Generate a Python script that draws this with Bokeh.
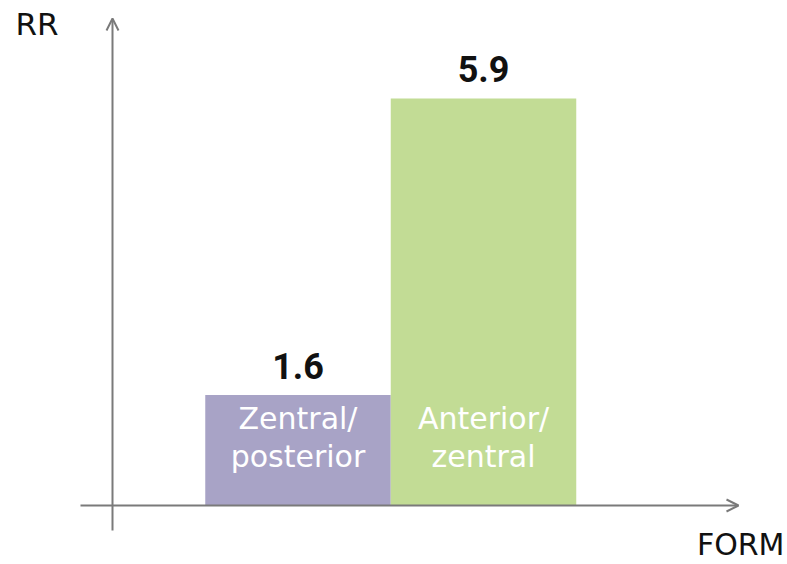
from bokeh.plotting import figure
from bokeh.models import Range1d, Arrow, OpenHead, Label, ColumnDataSource
from bokeh.core.properties import value
from bokeh.embed import file_html
from bokeh.resources import INLINE

# data
categories = ["Zentral/ posterior", "Anterior/ zentral"]
line1 = ["Zentral/", "Anterior/"]
line2 = ["posterior", "zentral"]
rr_values = [1.6, 5.9]
value_labels = ["1.6", "5.9"]
colors = ["#a8a3c6", "#c2dc95"]

W, H = 787, 564
# layout of the plot area in pixels
BAR_W_PX = 185.5          # one category unit
FIRST_CENTER_PX = 297.5   # centre of first bar
BASE_PX = 505.0           # pixel row of y = 0
UNIT_PX = 69.0            # pixels per RR unit
TXT_SHIFT = -12           # baseline correction for svg text

x0 = -FIRST_CENTER_PX / BAR_W_PX
x1 = (W - FIRST_CENTER_PX) / BAR_W_PX
y0 = -(H - BASE_PX) / UNIT_PX
y1 = BASE_PX / UNIT_PX


def px_x(px):
    return x0 + px / BAR_W_PX


def px_y(py):
    return (BASE_PX - py) / UNIT_PX


p = figure(width=W, height=H, output_backend="svg", toolbar_location=None,
           x_range=Range1d(x0, x1), y_range=Range1d(y0, y1),
           min_border=0, outline_line_color=None)
p.axis.visible = False
p.grid.visible = False
p.background_fill_color = "white"
p.border_fill_color = "white"

xs = list(range(len(categories)))
src = ColumnDataSource(dict(x=xs, top=rr_values, color=colors,
                            lab=value_labels, l1=line1, l2=line2,
                            zero=[0] * len(xs)))

p.vbar(x="x", top="top", bottom=0, width=1.0, fill_color="color",
       line_color=None, source=src)

# value labels above the bars
p.text(x="x", y="top", text="lab", source=src, text_align="center",
       text_baseline="alphabetic", y_offset=-17 + TXT_SHIFT,
       text_font=value("Roboto"), text_font_style="bold",
       text_font_size="36px", text_color="#111111")

# category names inside the bars
p.text(x="x", y="zero", text="l1", source=src, text_align="center",
       text_baseline="alphabetic", y_offset=-75 + TXT_SHIFT,
       text_font=value("DejaVu Sans"), text_font_size="30px",
       text_color="white")
p.text(x="x", y="zero", text="l2", source=src, text_align="center",
       text_baseline="alphabetic", y_offset=-37 + TXT_SHIFT,
       text_font=value("DejaVu Sans"), text_font_size="30px",
       text_color="white")

# axes with arrow heads
axis_color = "#7a7a7a"
p.add_layout(Arrow(end=OpenHead(size=12, line_color=axis_color, line_width=2),
                   x_start=px_x(112), y_start=px_y(530),
                   x_end=px_x(112), y_end=px_y(18),
                   line_color=axis_color, line_width=2))
p.add_layout(Arrow(end=OpenHead(size=12, line_color=axis_color, line_width=2),
                   x_start=px_x(80), y_start=0,
                   x_end=px_x(738), y_end=0,
                   line_color=axis_color, line_width=2))

p.add_layout(Label(x=px_x(15), y=px_y(35), y_offset=-TXT_SHIFT, text="RR",
                   text_font="DejaVu Sans", text_font_size="31px",
                   text_color="#111111", text_baseline="alphabetic"))
p.add_layout(Label(x=px_x(784), y=px_y(556), y_offset=-TXT_SHIFT, text="FORM",
                   text_font="DejaVu Sans", text_font_size="30px",
                   text_color="#111111", text_align="right",
                   text_baseline="alphabetic"))

open("out.html", "w").write(file_html(p, INLINE))
